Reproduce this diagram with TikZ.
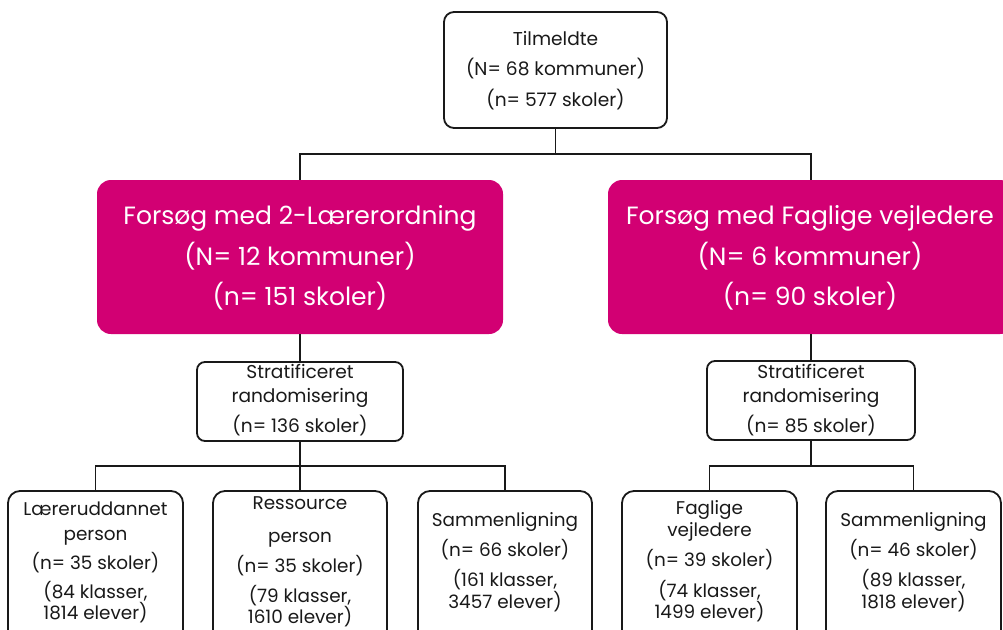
\documentclass[tikz,border=0pt]{standalone}
\usepackage{fontspec}
\setmainfont{Poppins}
\definecolor{pinkc}{RGB}{210,0,115}
\definecolor{inkc}{RGB}{25,25,25}
\newcommand\strt{\rule[-0.15em]{0pt}{0.95em}}
\lineskiplimit=-100pt
\lineskip=0pt
\begin{document}
\begin{tikzpicture}[x=1pt,y=-1pt,
  wbox/.style={draw=inkc, line width=1.8pt, rounded corners=10pt, fill=white, inner sep=0pt},
  pbox/.style={fill=pinkc, rounded corners=14pt, inner sep=0pt, minimum width=406pt, minimum height=154pt},
  txt/.style={align=center, inner sep=0pt, text=inkc},
  ptxt/.style={align=center, inner sep=0pt, text=white, font=\fontsize{25}{40.5}\selectfont},
  toptxt/.style={txt, font=\fontsize{18.6}{30.5}\selectfont},
  strtxt/.style={txt, font=\fontsize{18.6}{24}\selectfont},
  bottxt/.style={txt, font=\fontsize{18.4}{21}\selectfont},
  strbox/.style={wbox, rounded corners=8pt, minimum height=79pt},
  botbox/.style={wbox, rounded corners=12pt, minimum height=154pt},
  conn/.style={line width=1.8pt, draw=inkc}]
\useasboundingbox (0,0) rectangle (1003,629);
\clip (0,0) rectangle (1003,629);

% top
\node[wbox, minimum width=223pt, minimum height=116pt] (top) at (555.5,70) {};
\node[toptxt] (topt) at (555.5,70) {\strt Tilmeldte\\\strt (N= 68 kommuner)\\\strt (n= 577 skoler)};

% pink
\node[pbox] (pl) at (300,257) {};
\node[ptxt] (plt) at (300,257.5) {\strt Forsøg med 2-Lærerordning\\\strt (N= 12 kommuner)\\\strt (n= 151 skoler)};
\node[pbox] (pr) at (811,257) {};
\node[ptxt] (prt) at (810,257.5) {\strt Forsøg med Faglige vejledere\\\strt (N= 6 kommuner)\\\strt (n= 90 skoler)};

% stratification
\node[strbox, minimum width=206pt] (sl) at (300,401.5) {};
\node[strtxt] (slt) at (300,400) {\strt Stratificeret\\\strt randomisering\\[6pt]\strt (n= 136 skoler)};
\node[strbox, minimum width=208pt] (sr) at (811,400.5) {};
\node[strtxt] (srt) at (811,400) {\strt Stratificeret\\\strt randomisering\\[6pt]\strt (n= 85 skoler)};

% bottom
\node[botbox, minimum width=175pt] (b1) at (95.5,568) {};
\node[bottxt] (b1t) at (95.5,562) {\strt Læreruddannet\\[4pt]\strt person\\[8pt]\strt (n= 35 skoler)\\[8pt]\strt (84 klasser,\\\strt 1814 elever)};
\node[botbox, minimum width=174pt] (b2) at (300,568) {};
\node[bottxt] (b2t) at (300,561) {\strt Ressource\\[12pt]\strt person\\[9pt]\strt (n= 35 skoler)\\[9pt]\strt (79 klasser,\\\strt 1610 elever)};
\node[botbox, minimum width=174pt] (b3) at (505,568) {};
\node[bottxt] (b3t) at (505,561.5) {\strt Sammenligning\\[9pt]\strt (n= 66 skoler)\\[9pt]\strt (161 klasser,\\[1pt]\strt 3457 elever)};
\node[botbox, minimum width=175pt] (b4) at (709.5,568) {};
\node[bottxt] (b4t) at (709.5,561) {\strt Faglige\\[1pt]\strt vejledere\\[9pt]\strt (n= 39 skoler)\\[10pt]\strt (74 klasser,\\\strt 1499 elever)};
\node[botbox, minimum width=175pt] (b5) at (913.5,568) {};
\node[bottxt] (b5t) at (913.5,561.5) {\strt Sammenligning\\[9pt]\strt (n= 46 skoler)\\[9pt]\strt (89 klasser,\\[1pt]\strt 1818 elever)};

% connectors
\coordinate (bus1) at (0,154);
\coordinate (bus2) at (0,466);
\draw[conn] (top.south) -- (top.south |- bus1);
\draw[conn] (pl.north) -- (pl.north |- bus1) -- (pr.north |- bus1) -- (pr.north);
\draw[conn] (pl.south) -- (sl.north);
\draw[conn] (pr.south) -- (sr.north);
\draw[conn] (sl.south) -- (sl.south |- bus2);
\draw[conn] (b1.north) -- (b1.north |- bus2) -- (b3.north |- bus2) -- (b3.north);
\draw[conn] (b2.north) -- (b2.north |- bus2);
\draw[conn] (sr.south) -- (sr.south |- bus2);
\draw[conn] (b4.north) -- (b4.north |- bus2) -- (b5.north |- bus2) -- (b5.north);
\end{tikzpicture}
\end{document}
